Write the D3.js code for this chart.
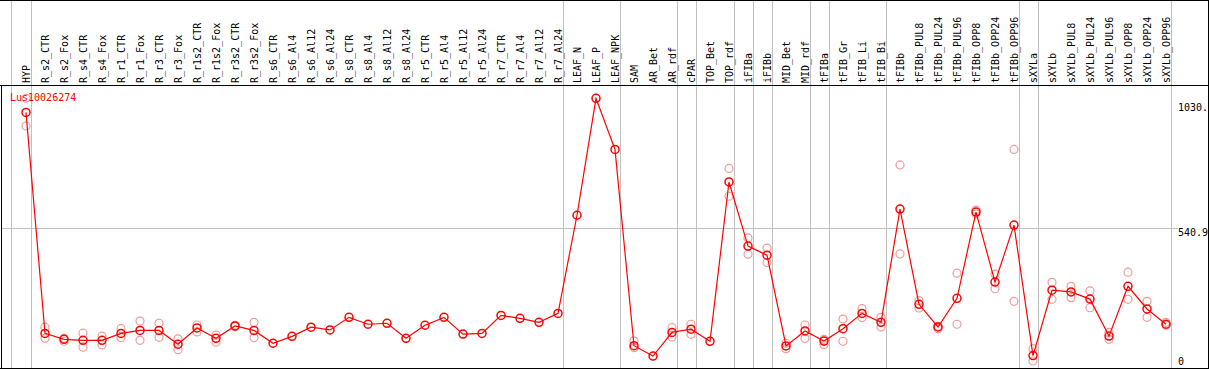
<!DOCTYPE html>
<html>
<head>
<meta charset="utf-8">
<script src="https://cdn.jsdelivr.net/npm/d3@7"></script>
<style>
  html, body { margin: 0; padding: 0; background: #fff; }
  svg { display: block; }
  text { font-family: "DejaVu Sans Mono", "Liberation Mono", monospace; font-size: 10px; }
</style>
</head>
<body>
<div id="chart"></div>
<script>
const seriesName = "Lus10026274";

const categories = [
  "HYP",
  "R_s2_CTR","R_s2_Fox","R_s4_CTR","R_s4_Fox","R_r1_CTR","R_r1_Fox","R_r3_CTR","R_r3_Fox",
  "R_r1s2_CTR","R_r1s2_Fox","R_r3s2_CTR","R_r3s2_Fox",
  "R_s6_CTR","R_s6_Al4","R_s6_Al12","R_s6_Al24","R_s8_CTR","R_s8_Al4","R_s8_Al12","R_s8_Al24",
  "R_r5_CTR","R_r5_Al4","R_r5_Al12","R_r5_Al24","R_r7_CTR","R_r7_Al4","R_r7_Al12","R_r7_Al24",
  "LEAF_N","LEAF_P","LEAF_NPK",
  "SAM","AR_Bet","AR_rdf",
  "cPAR",
  "TOP_Bet","TOP_rdf",
  "iFIBa",
  "iFIBb",
  "MID_Bet","MID_rdf",
  "tFIBa",
  "tFIB_Gr","tFIB_Li","tFIB_Bi",
  "tFIBb","tFIBb_PUL8","tFIBb_PUL24","tFIBb_PUL96","tFIBb_OPP8","tFIBb_OPP24","tFIBb_OPP96",
  "sXYLa",
  "sXYLb","sXYLb_PUL8","sXYLb_PUL24","sXYLb_PUL96","sXYLb_OPP8","sXYLb_OPP24","sXYLb_OPP96"
];

// number of consecutive categories in each separated group
const groupSizes = [1, 28, 3, 3, 1, 2, 1, 1, 2, 1, 3, 7, 1, 7];

const meanValues = [
  1008,
  112, 88, 84, 84, 112, 124, 124, 68,
  134, 92, 142, 124,
  72, 100, 137, 126, 177, 149, 153, 92,
  145, 177, 109, 112, 185, 173, 157, 193,
  591, 1065, 858,
  62, 20, 116,
  129,
  80, 726,
  466,
  429,
  61, 122,
  81,
  131, 193, 157,
  616, 230, 138, 254, 604, 320, 551,
  22,
  287, 280, 251, 101, 303, 211, 149
];

const replicateValues = [
  [1065, 953],
  [137, 92], [92, 80], [113, 56], [101, 65], [131, 95], [162, 84], [153, 96], [90, 46],
  [146, 118], [105, 76], [145, 139], [157, 95],
  [], [], [], [], [], [], [], [],
  [], [], [], [], [], [], [], [],
  [], [], [],
  [82, 54], [], [135, 97],
  [149, 108],
  [], [781, 668],
  [499, 433],
  [458, 399],
  [72, 50], [146, 92],
  [88, 66],
  [170, 80], [212, 176], [177, 138],
  [795, 434], [245, 215], [131, 141], [356, 149], [612, 597], [352, 293], [858, 242],
  [50, 0],
  [319, 250], [303, 257], [284, 216], [116, 88], [360, 250], [242, 177], [157, 145]
];

const axisTicks = [0, 540.9, 1030];
const axisTickLabels = ["0", "540.9", "1030."];

const W = 1209, H = 370;
const headerBottom = 85;
const plotBottom = 368;

const svg = d3.select("#chart").append("svg").attr("width", W).attr("height", H);

const x = d3.scalePoint().domain(categories).range([26, 26 + 19 * (categories.length - 1)]);
const y = d3.scaleLinear().domain([0, 1030]).range([361, 107]);

// separators
const sepX = [x(categories[0]) - 15];
let idx = -1;
groupSizes.forEach(s => { idx += s; sepX.push(x(categories[idx]) + 5); });

svg.append("g").selectAll("line").data(sepX).join("line")
  .attr("x1", d => d + 0.5).attr("x2", d => d + 0.5)
  .attr("y1", 0).attr("y2", plotBottom)
  .attr("stroke", "#c0c0c0").attr("stroke-width", 1);

// horizontal gridline (middle tick)
svg.append("line")
  .attr("x1", 1).attr("x2", 1178)
  .attr("y1", Math.round(y(axisTicks[1])) + 0.5).attr("y2", Math.round(y(axisTicks[1])) + 0.5)
  .attr("stroke", "#c0c0c0").attr("stroke-width", 1);

// borders
const border = svg.append("g").attr("stroke", "#000").attr("stroke-width", 1);
border.append("line").attr("x1", 0).attr("x2", W).attr("y1", 0.5).attr("y2", 0.5);
border.append("line").attr("x1", 0).attr("x2", W).attr("y1", headerBottom + 0.5).attr("y2", headerBottom + 0.5);
border.append("line").attr("x1", 1.5).attr("x2", 1.5).attr("y1", headerBottom).attr("y2", plotBottom + 1);
border.append("line").attr("x1", 1208.5).attr("x2", 1208.5).attr("y1", 0).attr("y2", plotBottom + 1);
border.append("line").attr("x1", 0).attr("x2", W).attr("y1", plotBottom + 0.5).attr("y2", plotBottom + 0.5);

// header labels
svg.append("g").selectAll("text").data(categories).join("text")
  .attr("transform", d => `translate(${x(d)},83) rotate(-90)`)
  .attr("dy", "0.35em")
  .attr("fill", "#000")
  .text(d => d);

// right axis labels
svg.append("g").selectAll("text").data(axisTicks).join("text")
  .attr("x", 1178)
  .attr("y", (d, i) => y(d) + (i === 1 ? 8 : 4))
  .attr("fill", "#000")
  .text((d, i) => axisTickLabels[i]);

// replicate circles
const reps = [];
replicateValues.forEach((arr, i) => arr.forEach(v => reps.push({ c: categories[i], v })));
svg.append("g").selectAll("circle").data(reps).join("circle")
  .attr("cx", d => x(d.c)).attr("cy", d => y(d.v)).attr("r", 4)
  .attr("fill", "none").attr("stroke", "#f09a9a").attr("stroke-width", 1.2);

// mean line
const pts = categories.map((c, i) => ({ c, v: meanValues[i] }));
svg.append("path").datum(pts)
  .attr("d", d3.line().x(d => x(d.c)).y(d => y(d.v)))
  .attr("fill", "none").attr("stroke", "#ff0000").attr("stroke-width", 1.2);

svg.append("g").selectAll("circle").data(pts).join("circle")
  .attr("cx", d => x(d.c)).attr("cy", d => y(d.v)).attr("r", 4)
  .attr("fill", "none").attr("stroke", "#ff0000").attr("stroke-width", 1.5);

// series name
svg.append("text").attr("x", 10).attr("y", 101).attr("fill", "#ff0000").text(seriesName);
</script>
</body>
</html>
